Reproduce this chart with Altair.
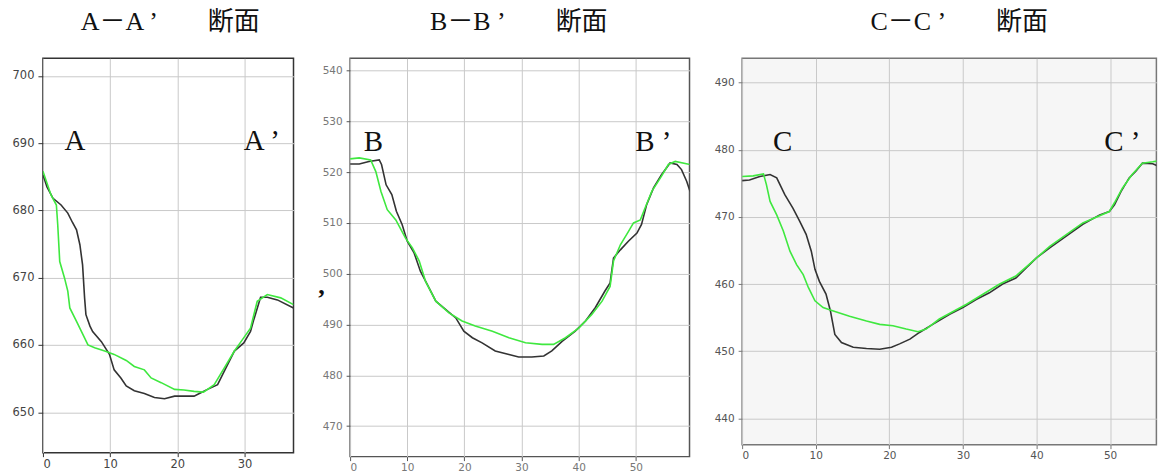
import altair as alt
import pandas as pd

# ---------------- data ----------------
titles = ["A－A ’\u3000\u3000断面", "B－B ’\u3000\u3000断面", "C－C ’\u3000\u3000断面"]

# Panel A
a_black_x = [0, 0.6, 1.5, 2.7, 3.7, 4.4, 5.0, 5.5, 5.9, 6.2, 6.4, 7.0, 7.4, 8.7, 9.9, 10.6, 11.6, 12.4, 13.6, 15.1, 16.6, 18.1, 19.6, 21.0, 22.5, 23.5, 24.5, 26.0, 27.0, 28.5, 29.9, 30.9, 31.4, 32.4, 33.4, 34.9, 37.3]
a_black_y = [685.3, 683.5, 681.8, 680.8, 679.6, 678.2, 677.1, 674.9, 671.9, 667.0, 664.5, 662.8, 662.0, 660.5, 658.6, 656.3, 655.1, 653.9, 653.2, 652.8, 652.2, 652.0, 652.4, 652.4, 652.4, 652.9, 653.4, 654.1, 656.1, 659.1, 660.3, 662.0, 663.8, 667.1, 667.1, 666.7, 665.5]
a_green_x = [0, 1.2, 2.0, 2.2, 2.5, 3.2, 3.7, 4.0, 5.0, 6.7, 7.7, 9.2, 10.6, 12.4, 13.6, 15.1, 16.1, 17.6, 19.6, 21.0, 22.5, 23.9, 25.5, 27.0, 28.5, 29.7, 30.9, 31.9, 33.4, 35.4, 37.3]
a_green_y = [685.8, 682.3, 680.8, 677.9, 672.4, 670.0, 668.0, 665.5, 663.5, 660.0, 659.6, 659.1, 658.6, 657.7, 656.8, 656.3, 655.1, 654.4, 653.4, 653.3, 653.1, 653.0, 654.1, 656.6, 659.1, 660.8, 662.5, 666.5, 667.5, 667.0, 666.0]

# Panel B
b_black_x = [0, 1.6, 3.3, 5.1, 5.5, 6.3, 7.3, 8.1, 9.1, 10.0, 11.2, 12.3, 13.5, 15.0, 16.7, 18.5, 19.9, 21.4, 23.1, 25.4, 27.8, 29.5, 31.8, 33.9, 35.3, 37.1, 39.4, 41.2, 42.9, 44.6, 45.5, 46.1, 47.3, 48.7, 50.2, 51.0, 51.9, 53.1, 54.5, 56.0, 57.2, 58.0, 58.9, 59.5]
b_black_y = [521.6, 521.6, 522.1, 522.4, 521.5, 517.5, 515.6, 512.3, 509.7, 506.4, 504.1, 500.5, 497.9, 494.6, 493.0, 491.3, 488.7, 487.4, 486.4, 484.8, 484.1, 483.6, 483.6, 483.8, 484.8, 486.7, 488.7, 490.7, 493.3, 496.6, 498.2, 503.1, 504.7, 506.4, 508.0, 509.7, 513.6, 516.9, 519.5, 521.8, 521.5, 520.5, 518.2, 516.2]
b_green_x = [0, 1.6, 3.6, 4.5, 5.4, 6.5, 8.0, 9.7, 10.9, 12.1, 13.2, 15.0, 17.3, 19.6, 21.9, 24.9, 27.8, 30.7, 33.6, 35.6, 37.7, 40.0, 42.3, 44.1, 45.5, 46.1, 47.3, 48.7, 49.6, 50.8, 51.6, 52.8, 54.5, 55.7, 56.9, 59.5]
b_green_y = [522.6, 522.8, 522.4, 520.1, 516.2, 512.6, 510.6, 507.0, 505.1, 502.5, 498.5, 494.6, 492.3, 490.7, 489.7, 488.7, 487.4, 486.4, 486.1, 486.1, 487.4, 489.3, 492.0, 494.6, 497.5, 502.5, 505.7, 508.3, 510.0, 510.6, 512.9, 516.2, 519.2, 521.5, 522.1, 521.5]

# Panel C
c_black_x = [0, 1.0, 2.4, 3.8, 4.7, 5.8, 6.9, 7.8, 8.7, 9.4, 9.9, 10.5, 11.4, 12.0, 12.6, 13.5, 15.1, 16.9, 18.7, 20.3, 21.4, 22.8, 24.1, 25.9, 28.2, 30.0, 31.8, 33.6, 35.4, 37.2, 38.6, 40.0, 41.8, 44.0, 46.3, 48.6, 49.9, 50.6, 51.5, 52.6, 53.5, 54.4, 55.8, 57.5]
c_black_y = [475.4, 475.5, 476.0, 476.3, 475.8, 473.3, 471.3, 469.4, 467.4, 464.9, 462.2, 460.4, 458.5, 456.0, 452.5, 451.3, 450.6, 450.4, 450.3, 450.6, 451.1, 451.8, 452.8, 454.0, 455.5, 456.5, 457.7, 458.7, 460.0, 460.9, 462.4, 463.9, 465.4, 467.1, 468.9, 470.3, 470.8, 471.8, 473.8, 475.8, 476.8, 478.0, 477.9, 477.1]
c_green_x = [0, 1.5, 2.9, 3.3, 3.8, 4.7, 5.6, 6.5, 7.4, 8.3, 9.0, 9.9, 11.0, 12.4, 14.6, 16.9, 18.7, 20.5, 22.3, 23.9, 25.0, 26.8, 30.5, 35.0, 37.2, 41.8, 46.3, 49.9, 50.6, 51.7, 53.0, 54.4, 55.8, 57.5]
c_green_y = [476.0, 476.1, 476.4, 474.8, 472.3, 470.3, 467.9, 464.9, 462.9, 461.4, 459.5, 457.5, 456.5, 456.0, 455.2, 454.5, 454.0, 453.8, 453.3, 452.9, 453.3, 454.8, 457.0, 460.0, 461.2, 465.6, 469.1, 470.8, 472.1, 474.3, 476.3, 478.0, 478.2, 478.5]

# in-plot point labels
a_lab_x = [3.2, 29.9]
a_lab_y = [689.0, 689.0]
a_lab_t = ["A", "A ’"]
b_lab_x = [2.4, 49.9]
b_lab_y = [524.2, 524.2]
b_lab_t = ["B", "B ’"]
c_lab_x = [4.2, 49.2]
c_lab_y = [479.8, 479.8]
c_lab_t = ["C", "C ’"]
stray_x = [-5.0]
stray_y = [496.0]
stray_t = [","]

BLACK = "#333333"
GREEN = "#3fe83f"
SERIF = "Liberation Serif"
TITLE_FONT = "Liberation Serif, Noto Sans CJK JP"


def series_df(bx, by, gx, gy):
    rows = []
    for i, (x, y) in enumerate(zip(bx, by)):
        rows.append({"d": x, "h": y, "s": "s1", "i": i})
    for i, (x, y) in enumerate(zip(gx, gy)):
        rows.append({"d": x, "h": y, "s": "s2", "i": i})
    return pd.DataFrame(rows)


def lab_df(xs, ys, ts):
    return pd.DataFrame({"d": xs, "h": ys, "t": ts})


def panel(df, lab, xdom, ydom, xt, yt, w, h, title, tdx, toff,
          frame_col, label_col, yfs, ypad, ytick, fill, extra=None):
    xenc = alt.X("d:Q", scale=alt.Scale(domain=xdom, nice=False, zero=False),
                 axis=alt.Axis(values=xt, title=None, domain=False, grid=True,
                               gridColor="#c9c9c9", gridWidth=1, tickSize=4,
                               tickColor=frame_col, labelFont="DejaVu Sans",
                               labelFontSize=yfs, labelColor=label_col,
                               labelPadding=2, format="d"))
    yenc = alt.Y("h:Q", scale=alt.Scale(domain=ydom, nice=False, zero=False),
                 axis=alt.Axis(values=yt, title=None, domain=False, grid=True,
                               gridColor="#c9c9c9", gridWidth=1, tickSize=ytick,
                               tickColor=frame_col, labelFont="DejaVu Sans",
                               labelFontSize=yfs, labelColor=label_col,
                               labelPadding=ypad, format="d"))
    lines = alt.Chart(df).mark_line(strokeWidth=1.6, clip=True).encode(
        x=xenc, y=yenc,
        color=alt.Color("s:N", scale=alt.Scale(domain=["s1", "s2"], range=[BLACK, GREEN]), legend=None),
        order="i:Q")
    texts = alt.Chart(lab).mark_text(font=SERIF, fontSize=29, align="left",
                                     baseline="alphabetic", color="#111111").encode(
        x="d:Q", y="h:Q", text="t:N")
    layers = [lines, texts]
    if extra is not None:
        layers.append(alt.Chart(extra).mark_text(font=SERIF, fontSize=26, fontWeight="bold",
                                                 align="center", baseline="alphabetic",
                                                 color="#111111").encode(
            x="d:Q", y="h:Q", text="t:N"))
    return alt.layer(*layers).properties(
        width=w, height=h,
        view=alt.ViewBackground(fill=fill, stroke=frame_col, strokeWidth=1.5),
        title=alt.Title(title, font=TITLE_FONT, fontSize=26, fontWeight="normal",
                        color="#111111", anchor="middle", frame="group",
                        offset=toff, dx=tdx))


pa = panel(series_df(a_black_x, a_black_y, a_green_x, a_green_y),
           lab_df(a_lab_x, a_lab_y, a_lab_t),
           [0, 37.3], [644, 702.6], [0, 10, 20, 30], [650, 660, 670, 680, 690, 700],
           251, 395, titles[0], 2, 23, "#333333", "#444444", 11.5, 4, 5, "#ffffff")
pb = panel(series_df(b_black_x, b_black_y, b_green_x, b_green_y),
           lab_df(b_lab_x, b_lab_y, b_lab_t),
           [0, 59.4], [464, 542.4], [0, 10, 20, 30, 40, 50], [470, 480, 490, 500, 510, 520, 530, 540],
           340, 399, titles[1], -1, 23, "#555555", "#777777", 10.5, 4, 4, "#ffffff",
           extra=lab_df(stray_x, stray_y, stray_t))
pc = panel(series_df(c_black_x, c_black_y, c_green_x, c_green_y),
           lab_df(c_lab_x, c_lab_y, c_lab_t),
           [0, 56.3], [436.1, 493.6], [0, 10, 20, 30, 40, 50], [440, 450, 460, 470, 480, 490],
           415, 387, titles[2], 10, 23, "#777777", "#555555", 10.5, 4, 4, "#f6f6f6")

chart = alt.hconcat(pa, pb, pc, spacing=22.7).properties(
    padding={"left": 3, "top": 0, "right": 0, "bottom": 0},
    background="#ffffff")

chart.save("out.html", embed_options={"renderer": "svg", "actions": False})
